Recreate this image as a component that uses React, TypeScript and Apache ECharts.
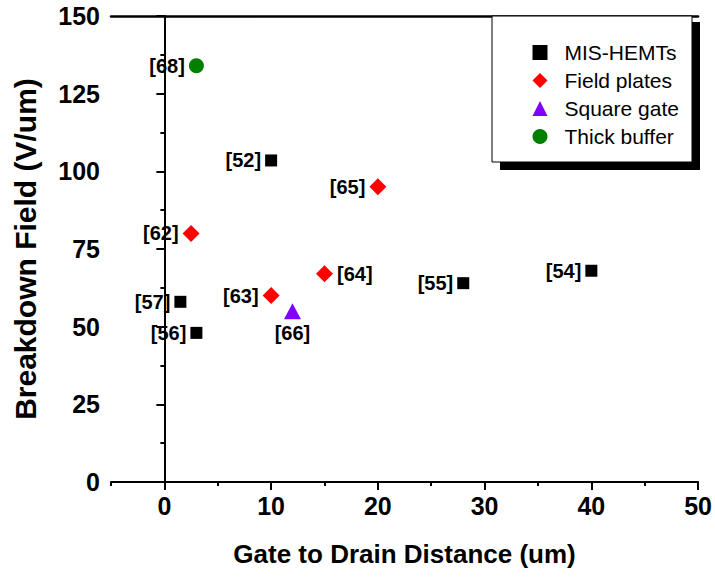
import React, { useEffect, useRef } from "react";
import * as echarts from "echarts";

// Breakdown field vs. gate-to-drain distance, grouped by device technique
const misX = [10, 40, 28, 1.5, 3];
const misY = [103.5, 68, 64, 58, 48];
const misRef = ["[52]", "[54]", "[55]", "[57]", "[56]"];

const fpX = [20, 2.5, 15, 10];
const fpY = [95, 80, 67, 60];
const fpRef = ["[65]", "[62]", "[64]", "[63]"];

const sqX = [12];
const sqY = [55];
const sqRef = ["[66]"];

const tbX = [3];
const tbY = [134];
const tbRef = ["[68]"];

// where each reference tag sits relative to its mark
const labelSide: Record<string, string> = { "[64]": "right", "[66]": "bottom" };

const xMajor = [0, 10, 20, 30, 40, 50];

const FONT = "'Liberation Sans', Arial, sans-serif";

function points(xs: number[], ys: number[], refs: string[]) {
  return xs.map((x, i) => ({
    value: [x, ys[i]],
    name: refs[i],
    label: { position: labelSide[refs[i]] || "left" },
  }));
}

export default function App() {
  const ref = useRef<HTMLDivElement>(null);

  useEffect(() => {
    if (!ref.current) return;
    const chart = echarts.init(ref.current, null, { renderer: "svg" });

    const label = {
      show: true,
      formatter: (p: any) => p.name,
      color: "#000",
      fontFamily: FONT,
      fontWeight: "bold",
      fontSize: 20,
      distance: 4,
    };

    const axisLineStyle = { color: "#000", width: 2 };
    const tickFont = { fontFamily: FONT, fontWeight: "bold", fontSize: 25, color: "#000" };

    chart.setOption({
      animation: false,
      backgroundColor: "#fff",
      grid: { left: 111, right: 15, top: 16, bottom: 96 },
      xAxis: [
        {
          type: "value",
          min: -5,
          max: 50,
          interval: 5,
          position: "bottom",
          name: "Gate to Drain Distance (um)",
          nameLocation: "middle",
          nameGap: 59,
          nameTextStyle: { fontFamily: FONT, fontWeight: "bold", fontSize: 26, color: "#000" },
          axisLine: { show: true, lineStyle: axisLineStyle },
          axisTick: { show: true, length: 8, customValues: xMajor, lineStyle: { color: "#000", width: 2 } },
          axisLabel: { customValues: xMajor, margin: 11, ...tickFont },
          splitLine: { show: false },
        },
        {
          type: "value",
          min: -5,
          max: 50,
          interval: 5,
          position: "bottom",
          axisLine: { show: false },
          axisTick: { show: true, length: 4, lineStyle: { color: "#000", width: 2 } },
          axisLabel: { show: false },
          splitLine: { show: false },
        },
        {
          type: "value",
          min: -5,
          max: 50,
          position: "top",
          axisLine: { show: true, lineStyle: { color: "#000", width: 2.5 } },
          axisTick: { show: false },
          axisLabel: { show: false },
          splitLine: { show: false },
        },
      ],
      yAxis: [
        {
          type: "value",
          min: 0,
          max: 150,
          interval: 25,
          name: "Breakdown Field (V/um)",
          nameLocation: "middle",
          nameGap: 71,
          nameTextStyle: { fontFamily: FONT, fontWeight: "bold", fontSize: 30, color: "#000" },
          axisLine: { show: true, lineStyle: axisLineStyle },
          axisTick: { show: true, length: 8, lineStyle: { color: "#000", width: 2 } },
          minorTick: { show: true, splitNumber: 2, length: 4, lineStyle: { color: "#000", width: 2 } },
          axisLabel: { margin: 11, ...tickFont },
          splitLine: { show: false },
        },
        {
          type: "value",
          min: 0,
          max: 150,
          position: "right",
          axisLine: { show: true, lineStyle: { color: "#000", width: 1.5 } },
          axisTick: { show: false },
          axisLabel: { show: false },
          splitLine: { show: false },
        },
      ],
      legend: {
        orient: "vertical",
        left: 527.5,
        top: 37,
        itemWidth: 15,
        itemHeight: 15,
        itemGap: 7,
        z: 10,
        textStyle: {
          fontFamily: FONT,
          fontSize: 21,
          lineHeight: 21,
          color: "#000",
          padding: [0, 0, 0, 12],
        },
        data: ["MIS-HEMTs", "Field plates", "Square gate", "Thick buffer"],
      },
      graphic: [
        {
          type: "rect",
          z: 3,
          shape: { x: 500, y: 22, width: 200, height: 148 },
          style: { fill: "#000" },
        },
        {
          type: "rect",
          z: 4,
          shape: { x: 492, y: 16, width: 200, height: 146 },
          style: { fill: "#fff", stroke: "#000", lineWidth: 1 },
        },
      ],
      series: [
        {
          name: "MIS-HEMTs",
          type: "scatter",
          symbol: "rect",
          symbolSize: 12,
          itemStyle: { color: "#000", opacity: 1 },
          label,
          data: points(misX, misY, misRef),
        },
        {
          name: "Field plates",
          type: "scatter",
          symbol: "diamond",
          symbolSize: 17,
          itemStyle: { color: "#ff0000", opacity: 1 },
          label,
          data: points(fpX, fpY, fpRef),
        },
        {
          name: "Square gate",
          type: "scatter",
          symbol: "triangle",
          symbolSize: [17, 16],
          itemStyle: { color: "#8000ff", opacity: 1 },
          label,
          data: points(sqX, sqY, sqRef),
        },
        {
          name: "Thick buffer",
          type: "scatter",
          symbol: "circle",
          symbolSize: 15,
          itemStyle: { color: "#008000", opacity: 1 },
          label,
          data: points(tbX, tbY, tbRef),
        },
      ],
    });

    return () => chart.dispose();
  }, []);

  return (
    <div
      ref={ref}
      style={{ position: "absolute", left: 0, top: 0, width: 715, height: 578 }}
    />
  );
}
